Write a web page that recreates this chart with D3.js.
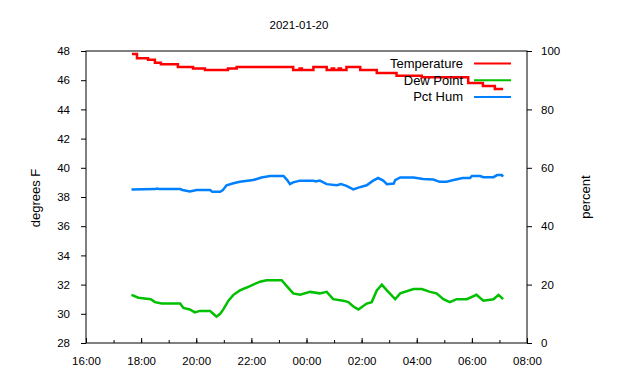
<!DOCTYPE html>
<html>
<head>
<meta charset="utf-8">
<script src="https://cdn.jsdelivr.net/npm/d3@7"></script>
<style>
  body { margin: 0; background: #fff; }
  svg text { font-family: "Liberation Sans", Arial, sans-serif; fill: #000; }
</style>
</head>
<body>
<div id="chart"></div>
<script>
// Readings (clock time, value); times before noon belong to the next day
const tempTimes = ["17:40","17:51","18:15","18:30","18:43","19:20","19:53","20:19","21:09","21:28",
  "23:31","23:45","23:50","00:15","00:44","00:55","01:00","01:10","01:15","01:27","01:57","02:33",
  "03:16","04:11","05:52","06:24","06:50","07:08"];
const tempValues = [47.8,47.5,47.4,47.2,47.1,46.9,46.8,46.7,46.8,46.9,
  46.7,46.8,46.7,46.9,46.7,46.8,46.7,46.8,46.7,46.9,46.7,46.5,
  46.3,46.2,45.8,45.6,45.4,45.4];

const dewTimes = ["17:39","17:54","18:21","18:30","18:45","19:25","19:32","19:46","19:57","20:08",
  "20:30","20:37","20:44","20:52","20:59","21:10","21:21","21:35","21:50","22:04","22:19","22:33",
  "23:06","23:17","23:31","23:46","00:08","00:29","00:44","00:58","01:20","01:31","01:42","01:53",
  "02:11","02:22","02:33","02:44","02:55","03:13","03:24","03:53","04:11","04:29","04:43","04:58",
  "05:12","05:27","05:49","06:10","06:25","06:47","06:58","07:08"];
const dewValues = [31.3,31.1,31.0,30.8,30.7,30.7,30.4,30.3,30.1,30.2,
  30.2,30.0,29.8,30.0,30.3,30.9,31.3,31.6,31.8,32.0,32.2,32.3,
  32.3,31.9,31.4,31.3,31.5,31.4,31.5,31.0,30.9,30.8,30.5,30.3,
  30.7,30.8,31.6,32.0,31.6,31.0,31.4,31.7,31.7,31.5,31.4,31.0,
  30.8,31.0,31.0,31.3,30.9,31.0,31.3,31.0];

const humTimes = ["17:39","18:30","18:35","18:40","19:25","19:30","19:46","20:01","20:30","20:35",
  "20:52","20:58","21:06","21:21","21:35","22:04","22:22","22:41","23:10","23:18","23:24","23:31",
  "23:46","00:15","00:20","00:29","00:44","01:06","01:15","01:27","01:42","01:53","02:11","02:25",
  "02:36","02:47","02:55","03:10","03:13","03:24","03:53","04:14","04:36","04:50","05:05","05:20",
  "05:40","05:56","06:00","06:18","06:25","06:47","06:55","07:05","07:08"];
const humValues = [52.6,52.7,52.9,52.7,52.7,52.4,51.9,52.4,52.4,51.8,
  51.8,52.4,54.0,54.7,55.2,55.8,56.7,57.2,57.2,55.8,54.4,55.0,
  55.6,55.6,55.3,55.6,54.4,54.0,54.4,53.8,52.6,53.2,54.0,55.6,
  56.5,55.6,54.4,54.6,55.8,56.7,56.7,56.2,56.0,55.2,55.2,55.8,
  56.5,56.5,57.2,57.2,56.8,56.8,57.5,57.5,57.0];

const seriesNames = ["Temperature", "Dew Point", "Pct Hum"];
const seriesColors = ["#ff0000", "#00c000", "#0080ff"];
const xTickLabels = ["16:00","18:00","20:00","22:00","00:00","02:00","04:00","06:00","08:00"];

const width = 640, height = 380;
const plot = { left: 86, right: 527, top: 51, bottom: 343 };

const parseFull = d3.timeParse("%Y-%m-%d %H:%M");
function toDate(t) {
    const h = +t.slice(0, 2);
    return parseFull((h >= 12 ? "2021-01-19 " : "2021-01-20 ") + t);
}

const x = d3.scaleTime()
    .domain([toDate("16:00"), toDate("08:00")])
    .range([plot.left, plot.right]);
const yLeft = d3.scaleLinear().domain([28, 48]).range([plot.bottom, plot.top]);
const yRight = d3.scaleLinear().domain([0, 100]).range([plot.bottom, plot.top]);

const svg = d3.select('#chart')
    .append('svg')
    .attr('width', width)
    .attr('height', height);

// Title
svg.append('text')
    .attr('x', 299).attr('y', 29)
    .attr('text-anchor', 'middle')
    .style('font-size', '11.5px')
    .text('2021-01-20');

// Axes
const xAxis = d3.axisBottom(x)
    .tickValues(xTickLabels.map(toDate))
    .tickFormat(d3.timeFormat('%H:%M'))
    .tickSize(-5).tickPadding(14);
const xMinor = d3.axisBottom(x)
    .ticks(d3.timeHour.every(1))
    .tickFormat('')
    .tickSize(-3);

svg.append('g').attr('transform', `translate(0,${plot.bottom})`).call(xMinor);
svg.append('g').attr('transform', `translate(0,${plot.bottom})`).call(xAxis);

svg.append('g').attr('transform', `translate(${plot.left},0)`)
    .call(d3.axisLeft(yLeft).ticks(10).tickSize(5).tickPadding(11));
svg.append('g').attr('transform', `translate(${plot.right},0)`)
    .call(d3.axisRight(yRight).ticks(5).tickSize(5).tickPadding(9));

svg.selectAll('.domain').remove();
svg.selectAll('.tick line').attr('stroke', '#000');
svg.selectAll('.tick text').style('font-size', '11.5px').attr('font-family', null);

// Plot border
svg.append('rect')
    .attr('x', plot.left).attr('y', plot.top)
    .attr('width', plot.right - plot.left).attr('height', plot.bottom - plot.top)
    .attr('fill', 'none').attr('stroke', '#000');

// Axis titles
svg.append('text')
    .attr('transform', 'translate(40,198) rotate(-90)')
    .attr('text-anchor', 'middle')
    .style('font-size', '13px')
    .text('degrees F');
svg.append('text')
    .attr('transform', 'translate(590,197) rotate(-90)')
    .attr('text-anchor', 'middle')
    .style('font-size', '13px')
    .text('percent');

// Data lines
const tempData = tempTimes.map((t, i) => [toDate(t), tempValues[i]]);
const dewData = dewTimes.map((t, i) => [toDate(t), dewValues[i]]);
const humData = humTimes.map((t, i) => [toDate(t), humValues[i]]);

const lineLeftStep = d3.line().x(d => x(d[0])).y(d => yLeft(d[1])).curve(d3.curveStepAfter);
const lineLeft = d3.line().x(d => x(d[0])).y(d => yLeft(d[1]));
const lineRight = d3.line().x(d => x(d[0])).y(d => yRight(d[1]));

svg.append('path').datum(dewData)
    .attr('d', lineLeft)
    .attr('fill', 'none').attr('stroke', seriesColors[1]).attr('stroke-width', 2.5);
svg.append('path').datum(humData)
    .attr('d', lineRight)
    .attr('fill', 'none').attr('stroke', seriesColors[2]).attr('stroke-width', 2.5);
svg.append('path').datum(tempData)
    .attr('d', lineLeftStep)
    .attr('fill', 'none').attr('stroke', seriesColors[0]).attr('stroke-width', 2.5);

// Legend
const legend = svg.append('g');
seriesNames.forEach((name, i) => {
    const ly = 63.5 + i * 16.7;
    legend.append('text')
        .attr('x', 463).attr('y', ly)
        .attr('dy', '0.35em')
        .attr('text-anchor', 'end')
        .style('font-size', '13px')
        .text(name);
    legend.append('line')
        .attr('x1', 474).attr('x2', 511)
        .attr('y1', ly).attr('y2', ly)
        .attr('stroke', seriesColors[i]).attr('stroke-width', 2);
});
</script>
</body>
</html>
